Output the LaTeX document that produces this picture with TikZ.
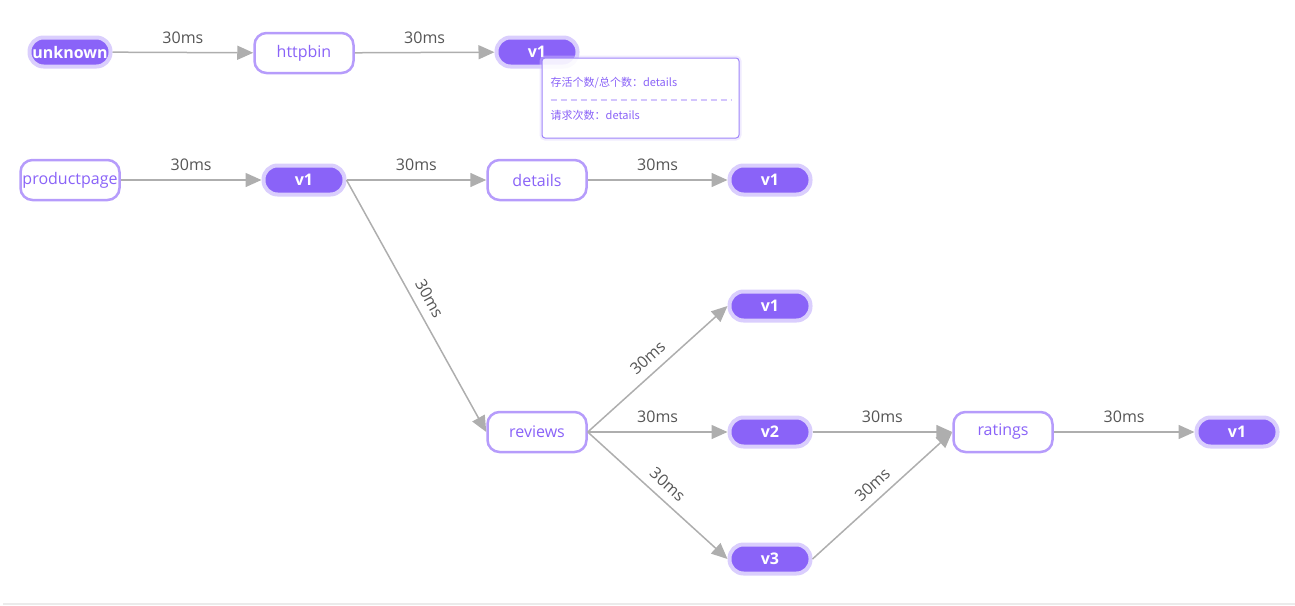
\documentclass[tikz,border=0pt]{standalone}
\usepackage{fontspec}
\setmainfont{Open Sans}
\newfontfamily\cjk{Noto Sans CJK SC}
\usetikzlibrary{arrows.meta}
\definecolor{pillfill}{HTML}{8A63F8}
\definecolor{pillhalo}{HTML}{DACEFD}
\definecolor{boxline}{HTML}{B69CFB}
\definecolor{edgegray}{HTML}{AEAEAE}
\definecolor{labelgray}{HTML}{555555}
\definecolor{tipline}{HTML}{9F84FA}
\definecolor{tipdash}{HTML}{D3C5FD}
\tikzset{
	pill/.style={fill=pillfill, draw=pillhalo, line width=4pt, rounded corners=14pt,
		minimum width=81pt, minimum height=29pt, inner sep=0pt, text=white,
		font=\fontsize{16}{18}\selectfont\bfseries},
	svc/.style={fill=white, draw=boxline, line width=2.5pt, rounded corners=12pt,
		minimum width=99pt, minimum height=40pt, inner sep=0pt, text=pillfill,
		font=\fontsize{16}{18}\selectfont},
	link/.style={draw=edgegray, line width=1.5pt, -{Triangle[length=16pt,width=14pt]}},
	delay/.style={midway, above=5pt, text=labelgray, font=\fontsize{16}{18}\selectfont},
	tiptext/.style={anchor=west, inner sep=0pt, text=pillfill, font=\cjk\fontsize{11}{13}\selectfont}
}

\begin{document}
\begin{tikzpicture}[x=1pt,y=-1pt]
		%%%%% START %%%%%
		\useasboundingbox (0,0) rectangle (1295,605);
		\draw[draw=black!8, line width=2pt] (3,604) -- (1295,604);
		
		% first chain
		\node[pill] (unk) at (70,52) {unknown};
		\node[svc] (httpbin) at (304,53) {httpbin};
		\node[pill] (v1a) at (537,52) {v1};
		\draw[link] (unk) -- node[delay]{30ms} (httpbin);
		\draw[link] (httpbin) -- node[delay]{30ms} (v1a);
		
		% second chain
		\node[svc] (productpage) at (70,180) {productpage};
		\node[pill] (v1b) at (304,180) {v1};
		\node[svc] (details) at (537,180) {details};
		\node[pill] (v1d) at (770,180) {v1};
		\node[svc] (reviews) at (537,432) {reviews};
		\node[pill] (v1r) at (770,306) {v1};
		\node[pill] (v2) at (770,432) {v2};
		\node[pill] (v3) at (770,559) {v3};
		\node[svc] (ratings) at (1003,432) {ratings};
		\node[pill] (v1t) at (1237,432) {v1};
		
		\draw[link] (productpage) -- node[delay]{30ms} (v1b);
		\draw[link] (v1b) -- node[delay]{30ms} (details);
		\draw[link] (details) -- node[delay]{30ms} (v1d);
		\draw[link] (v1b.east) -- node[delay, sloped]{30ms} (reviews.west);
		\draw[link] (reviews.east) -- node[delay, sloped]{30ms} (v1r.west);
		\draw[link] (reviews) -- node[delay]{30ms} (v2);
		\draw[link] (reviews.east) -- node[delay, sloped]{30ms} (v3.west);
		\draw[link] (v2) -- node[delay]{30ms} (ratings);
		\draw[link] (v3.east) -- node[delay, sloped]{30ms} (ratings.west);
		\draw[link] (ratings) -- node[delay]{30ms} (v1t);
		
		% tooltip
		\node[draw=pillhalo, line width=3pt, opacity=.4, rounded corners=4pt,
			minimum width=199pt, minimum height=82pt] at (640.5,98) {};
		\node[draw=tipline, line width=1pt, fill=white, fill opacity=.9, rounded corners=3pt,
			minimum width=197pt, minimum height=80pt] (tip) at (640.5,98) {};
		\node[tiptext] (alive) at ([xshift=9pt,yshift=15pt]tip.west) {存活个数/总个数：details};
		\node[tiptext] (count) at ([xshift=9pt,yshift=-17pt]tip.west) {请求次数：details};
		\draw[draw=tipdash, line width=1.5pt, dash pattern=on 6pt off 4pt]
			([xshift=9pt,yshift=-2pt]tip.west) -- ([xshift=-8pt,yshift=-2pt]tip.east);
		%%%%% END %%%%%
\end{tikzpicture}
\end{document}
